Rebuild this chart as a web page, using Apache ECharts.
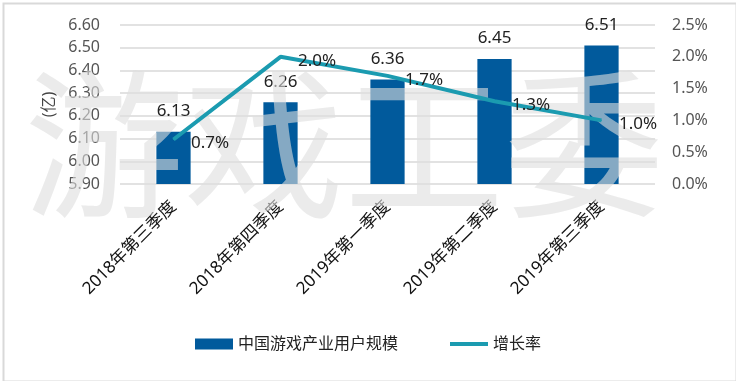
<!DOCTYPE html>
<html><head><meta charset="utf-8">
<script src="https://cdn.jsdelivr.net/npm/echarts@6/dist/echarts.min.js"></script>
<style>html,body{margin:0;padding:0;background:#fff}#c{width:736px;height:381px}</style>
</head><body><div id="c"></div>
<script>
var categories = ['2018年第三季度','2018年第四季度','2019年第一季度','2019年第二季度','2019年第三季度'];
var userScale = [6.13, 6.26, 6.36, 6.45, 6.51];
var growthRate = [0.7, 2.0, 1.7, 1.3, 1.0];
var seriesNames = ['中国游戏产业用户规模', '增长率'];
var leftTicks = {min: 5.9, max: 6.6, interval: 0.1};
var rightTicks = {min: 0, max: 2.5, interval: 0.5};
var yName = '(亿)';
var watermark = '游戏工委';

var FF = '"Noto Sans","Noto Sans CJK SC",sans-serif';
var chart = echarts.init(document.getElementById('c'));
chart.setOption({
  animation: false,
  textStyle: {fontFamily: FF},
  grid: {left: 120, right: 81, top: 25, bottom: 197},
  legend: {
    bottom: 24, left: 'center', itemGap: 52, itemWidth: 38, itemHeight: 11,
    textStyle: {fontSize: 16, color: '#222', fontFamily: FF},
    data: [{name: seriesNames[0], icon: 'rect'},
           {name: seriesNames[1], icon: 'path://M0,0h40v4h-40z'}]
  },
  graphic: [
    {type: 'rect', left: 1, top: 1, z: -10, shape: {width: 733, height: 378},
     style: {fill: 'none', stroke: '#d9d9d9', lineWidth: 2}},
    {type: 'text', left: 24, top: 64, z: 100, silent: true,
     style: {text: watermark, font: '400 160px "Noto Sans CJK SC"', fill: 'rgba(222,222,222,0.6)'}}
  ],
  xAxis: {
    type: 'category', data: categories,
    axisLine: {show: false}, axisTick: {show: false},
    axisLabel: {rotate: 45, fontSize: 17, color: '#111', margin: 20, fontFamily: FF}
  },
  yAxis: [
    {type: 'value', min: leftTicks.min, max: leftTicks.max, interval: leftTicks.interval,
     name: yName, nameLocation: 'middle', nameGap: 62, nameRotate: 90,
     nameTextStyle: {fontSize: 16, color: '#444'},
     axisLine: {show: false}, axisTick: {show: false},
     axisLabel: {fontSize: 16, color: '#555', margin: 20, formatter: function(v){return v.toFixed(2);}},
     splitLine: {lineStyle: {color: '#d9d9d9', width: 1.5}}},
    {type: 'value', min: rightTicks.min, max: rightTicks.max, interval: rightTicks.interval,
     axisLine: {show: false}, axisTick: {show: false}, splitLine: {show: false},
     axisLabel: {fontSize: 16, color: '#555', margin: 17, formatter: function(v){return v.toFixed(1)+'%';}}}
  ],
  series: [
    {name: seriesNames[0], type: 'bar', data: userScale, barWidth: '32%', yAxisIndex: 0,
     itemStyle: {color: '#015a9c'},
     label: {show: true, position: 'top', distance: 12, fontSize: 17, color: '#222', formatter: function(p){return p.value.toFixed(2);}}},
    {name: seriesNames[1], type: 'line', data: growthRate, yAxisIndex: 1, symbol: 'circle', symbolSize: 1, z: 200,
     lineStyle: {color: '#1b9bb0', width: 4}, itemStyle: {color: '#1b9bb0'},
     label: {show: true, position: 'right', distance: 17, offset: [0, 4], fontSize: 17, color: '#222', formatter: function(p){return p.value.toFixed(1)+'%';}}}
  ]
});
</script></body></html>
